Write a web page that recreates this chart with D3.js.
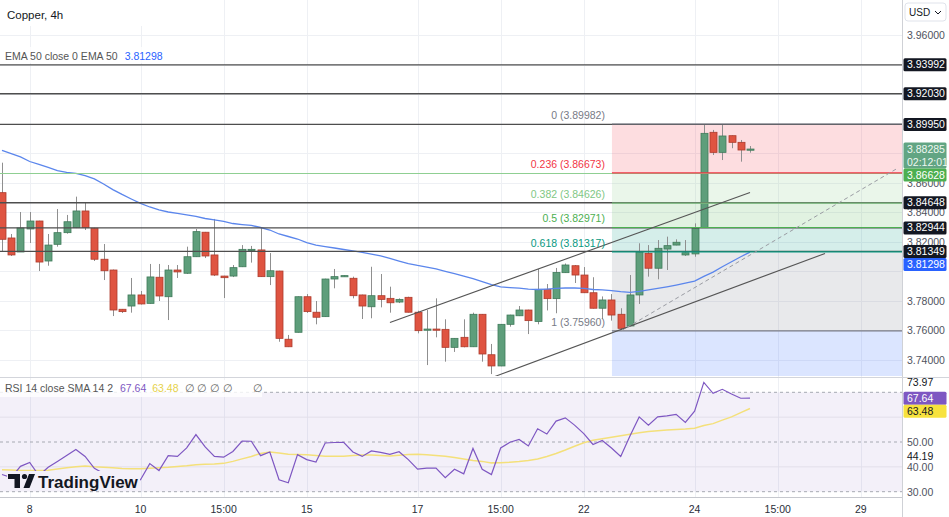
<!DOCTYPE html>
<html><head><meta charset="utf-8">
<script src="https://cdn.jsdelivr.net/npm/d3@7"></script>
<style>body{margin:0;background:#fff;}svg{display:block;font-family:"Liberation Sans",Arial,sans-serif;}</style>
</head><body><svg id="c" width="949" height="517"></svg>
<script>
// ---------- DATA ----------
const opens=[3.8533,3.8226,3.8131,3.8287,3.8341,3.8070,3.8183,3.8262,3.8296,3.8409,
3.8292,3.8082,3.8009,3.7743,3.7765,3.7840,3.7783,3.7960,3.7828,3.8009,
3.7987,3.8099,3.8265,3.8111,3.7968,3.7968,3.8031,3.8145,3.8145,3.7964,
3.8002,3.7540,3.7587,3.7828,3.7723,3.7693,3.7948,3.7964,3.7953,3.7840,
3.7760,3.7835,3.7817,3.7792,3.7824,3.7723,3.7605,3.7609,3.7607,3.7485,
3.7553,3.7489,3.7709,3.7435,3.7359,3.7641,3.7699,3.7738,3.7660,3.7878,
3.7815,3.7991,3.8038,3.7975,3.7855,3.7750,3.7806,3.7709,3.7630,3.7840,
3.8122,3.8021,3.8151,3.8178,3.8111,3.8118,3.8296,3.8942,3.8806,3.8919,
3.8874,3.8826];
const highs=[3.8736,3.8253,3.8402,3.8402,3.8343,3.8253,3.8422,3.8382,3.8506,3.8465,
3.8295,3.8185,3.8012,3.7745,3.7955,3.7867,3.8050,3.8050,3.8043,3.8043,
3.8167,3.8287,3.8267,3.8355,3.7970,3.8043,3.8178,3.8172,3.8296,3.8124,
3.8004,3.7569,3.7830,3.7846,3.7799,3.7950,3.8016,3.7973,3.7964,3.7842,
3.8031,3.7982,3.7896,3.7817,3.7828,3.7733,3.7738,3.7817,3.7675,3.7548,
3.7675,3.7720,3.7711,3.7508,3.7643,3.7706,3.7765,3.7740,3.8016,3.7914,
3.8023,3.8053,3.8043,3.8029,3.7960,3.7830,3.7846,3.7750,3.7975,3.8190,
3.8178,3.8212,3.8235,3.8217,3.8212,3.8325,3.8995,3.8958,3.8998,3.8921,
3.8890,3.8849];
const lows=[3.8133,3.8104,3.8131,3.8192,3.8002,3.8038,3.8167,3.8255,3.8293,3.8280,
3.8070,3.7941,3.7697,3.7718,3.7720,3.7775,3.7781,3.7799,3.7670,3.7955,
3.7982,3.8097,3.8090,3.7968,3.7819,3.7961,3.8029,3.8059,3.7962,3.7907,
3.7523,3.7487,3.7585,3.7718,3.7641,3.7691,3.7885,3.7962,3.7817,3.7677,
3.7682,3.7756,3.7720,3.7785,3.7721,3.7580,3.7365,3.7553,3.7388,3.7454,
3.7485,3.7487,3.7388,3.7304,3.7357,3.7625,3.7697,3.7575,3.7641,3.7735,
3.7716,3.7989,3.7921,3.7853,3.7748,3.7677,3.7666,3.7596,3.7628,3.7779,
3.7964,3.7946,3.8009,3.8176,3.8104,3.8099,3.8294,3.8788,3.8754,3.8834,
3.8743,3.8804];
const closes=[3.8217,3.8111,3.8294,3.8341,3.8063,3.8178,3.8262,3.8336,3.8409,3.8296,
3.8082,3.8004,3.7738,3.7727,3.7840,3.7779,3.7962,3.7833,3.8009,3.7996,
3.8099,3.8269,3.8104,3.7975,3.7957,3.8025,3.8149,3.8149,3.7964,3.8004,
3.7546,3.7489,3.7828,3.7727,3.7689,3.7948,3.7964,3.7971,3.7835,3.7765,
3.7835,3.7810,3.7787,3.7810,3.7723,3.7598,3.7609,3.7605,3.7485,3.7546,
3.7489,3.7709,3.7440,3.7359,3.7641,3.7704,3.7738,3.7666,3.7878,3.7815,
3.7992,3.8043,3.7975,3.7855,3.7750,3.7806,3.7704,3.7614,3.7840,3.8129,
3.8021,3.8156,3.8174,3.8197,3.8126,3.8292,3.8935,3.8806,3.8917,3.8874,
3.8822,3.88285];
const ema50=[3.8819,3.8798,3.8775,3.8744,3.8724,3.8704,3.8683,3.8670,3.8663,3.8649,
3.8626,3.8592,3.8554,3.8521,3.8490,3.8460,3.8436,3.8416,3.8402,3.8392,
3.8382,3.8372,3.8358,3.8348,3.8338,3.8324,3.8317,3.8311,3.8297,3.8280,
3.8253,3.8236,3.8219,3.8195,3.8178,3.8168,3.8158,3.8148,3.8138,3.8128,
3.8117,3.8104,3.8087,3.8070,3.8053,3.8040,3.8029,3.8016,3.8000,3.7984,
3.7968,3.7950,3.7931,3.7910,3.7895,3.7890,3.7886,3.7880,3.7877,3.7880,
3.7884,3.7887,3.7887,3.7884,3.7877,3.7874,3.7870,3.7863,3.7858,3.7864,
3.7874,3.7884,3.7895,3.7907,3.7920,3.7934,3.7966,3.7995,3.8031,3.8065,
3.8099,3.81298];
const rsi14=[36.9,35.7,40.2,41.8,36.5,39.8,42.2,44.6,47.0,44.2,
39.4,37.3,33.7,33.3,36.9,34.8,41.3,38.5,44.5,44.2,
47.6,53.0,48.0,44.2,43.9,46.2,50.4,50.3,44.5,46.0,
34.8,33.6,44.9,42.9,41.9,49.6,49.8,49.9,46.0,44.2,
46.4,45.8,45.0,46.1,42.9,39.1,39.5,39.5,35.6,39.0,
37.2,47.4,39.0,36.9,47.6,49.9,51.0,48.4,55.3,53.2,
58.4,59.7,56.8,53.4,49.0,50.6,47.6,44.2,52.4,60.1,
56.8,60.1,60.5,61.1,57.9,62.4,73.97,69.6,71.2,69.3,
67.6,67.64];
const rsiSma=[38.8,38.7,38.5,38.5,38.5,38.6,39.1,39.6,40.0,40.3,
40.0,39.8,39.6,39.3,39.2,39.2,39.4,39.6,39.8,40.1,
40.4,40.8,41.0,41.1,41.4,42.2,43.2,44.2,45.4,46.0,
45.6,45.1,45.0,44.9,44.6,44.3,44.3,44.3,44.6,44.8,
44.8,44.6,44.4,44.7,45.0,45.1,44.9,44.6,44.3,43.8,
43.2,42.6,42.2,41.6,41.7,41.9,42.2,42.6,43.2,44.2,
45.4,46.8,48.3,49.7,50.7,51.3,51.9,52.5,53.1,53.7,
54.2,54.5,54.8,55.0,55.2,55.5,56.6,57.4,58.8,60.1,
61.8,63.48];
// time axis ticks (candle index -> label)
const timeTickIdx=[3,15,24,33,45,54,63,75,84,93];
const timeTickLabels=["8","10","15:00","15","17","15:00","22","24","15:00","29"];
const priceTicks=[3.74,3.76,3.78,3.80,3.82,3.84,3.86,3.88,3.90,3.92,3.94,3.96];
const rsiTicks=[30,40,50,60,70];
// horizontal levels
const hLevels=[3.93992,3.92030,3.89950,3.84648,3.82944,3.81349];
const greenLevel=3.86628;
// fibonacci retracement
const fibStartIdx=66.05;
const fibRatios=["0","0.236","0.382","0.5","0.618","1","1.618"];
const fibPrices=[3.89982,3.86673,3.84626,3.82971,3.81317,3.75960,3.67294];
// trend lines [index, price]
const channelUpper=[[42.01,3.7653],[81.0,3.8534]];
const channelLower=[[53.38,3.7288],[89.12,3.8121]];
const fibTrend=[[67.03,3.7596],[97.02,3.8700]];
const lastPrice=3.88285, countdown="02:12:01", emaLast=3.81298;
const rsiLast=67.64, smaLast=63.48, rsiHigh=73.97, rsiMark=44.19;

// ---------- LAYOUT ----------
const W=949,H=517,PR=902,MB=376,RT=378,RB=497;
const svg=d3.select('#c');
const x=d3.scaleLinear().domain([-0.2166,97.46]).range([0,PR]);
const yP=d3.scaleLinear().domain([3.72909,3.98383]).range([MB,0]);
const yR=d3.scaleLinear().domain([30,70]).range([491.7,392.3]);
const defs=svg.append('defs');
defs.append('clipPath').attr('id','cm').append('rect').attr('x',0).attr('y',0).attr('width',PR).attr('height',MB);
defs.append('clipPath').attr('id','cr').append('rect').attr('x',0).attr('y',RT).attr('width',PR).attr('height',RB-RT);

const fibColors=["#787b86","#f23645","#81c784","#4caf50","#089981","#787b86","#2962ff"];

// grid
const grid=svg.append('g');
grid.selectAll('line.v').data(timeTickIdx).join('line')
 .attr('x1',d=>Math.round(x(d))+0.5).attr('x2',d=>Math.round(x(d))+0.5).attr('y1',0).attr('y2',RB)
 .attr('stroke','#eef0f4');
grid.selectAll('line.h').data(priceTicks).join('line')
 .attr('x1',0).attr('x2',PR).attr('y1',d=>Math.round(yP(d))+0.5).attr('y2',d=>Math.round(yP(d))+0.5)
 .attr('stroke','#eef0f4');

// RSI pane background
const gr=svg.append('g').attr('clip-path','url(#cr)');
gr.append('rect').attr('x',0).attr('width',PR).attr('y',yR(70)).attr('height',yR(30)-yR(70)).attr('fill','rgba(126,87,194,0.09)');
gr.selectAll('line.g').data([40,60]).join('line').attr('x1',0).attr('x2',PR)
 .attr('y1',d=>yR(d)).attr('y2',d=>yR(d)).attr('stroke','#e2dfea');
gr.selectAll('line.d').data([30,50,70]).join('line').attr('x1',0).attr('x2',PR)
 .attr('y1',d=>yR(d)).attr('y2',d=>yR(d)).attr('stroke','#a6a9b2').attr('stroke-dasharray','3,3');

// main pane
const gm=svg.append('g').attr('clip-path','url(#cm)');
const fx0=x(fibStartIdx);
for(let k=0;k<fibPrices.length-1;k++){
  gm.append('rect').attr('x',fx0).attr('width',PR-fx0)
   .attr('y',yP(fibPrices[k])).attr('height',yP(fibPrices[k+1])-yP(fibPrices[k]))
   .attr('fill',fibColors[k+1]).attr('fill-opacity',0.17);
}
// candles
const idx=d3.range(opens.length);
const up=i=>closes[i]>=opens[i];
gm.selectAll('line.w').data(idx).join('line')
 .attr('x1',i=>Math.round(x(i))+0.5).attr('x2',i=>Math.round(x(i))+0.5)
 .attr('y1',i=>yP(highs[i])).attr('y2',i=>yP(lows[i])).attr('stroke','#8f8f8f').attr('stroke-width',1);
gm.selectAll('rect.b').data(idx).join('rect')
 .attr('x',i=>Math.round(x(i))-3).attr('width',7)
 .attr('y',i=>yP(Math.max(opens[i],closes[i])))
 .attr('height',i=>Math.max(1.2,Math.abs(yP(opens[i])-yP(closes[i]))))
 .attr('fill',i=>up(i)?'#5e9e7b':'#df5441')
 .attr('stroke',i=>up(i)?'#3f7a5a':'#ad3b2c').attr('stroke-width',0.8);
// EMA
gm.append('path').datum(ema50).attr('fill','none').attr('stroke','#5b86ec').attr('stroke-width',1.3)
 .attr('d',d3.line().x((d,i)=>x(i)).y(d=>yP(d)));
// horizontal levels
gm.append('line').attr('x1',0).attr('x2',PR).attr('y1',yP(greenLevel)).attr('y2',yP(greenLevel))
 .attr('stroke','#8fcf92').attr('stroke-width',1.2);
gm.selectAll('line.hl').data(hLevels).join('line').attr('x1',0).attr('x2',PR)
 .attr('y1',d=>yP(d)).attr('y2',d=>yP(d)).attr('stroke','#4e4e4e').attr('stroke-width',1.3);
// fib lines
fibPrices.slice(0,6).forEach((p,k)=>{
  gm.append('line').attr('x1',fx0).attr('x2',PR).attr('y1',yP(p)).attr('y2',yP(p))
   .attr('stroke',fibColors[k]).attr('stroke-width',1.2);
});
// trend lines
const tl=d3.line().x(d=>x(d[0])).y(d=>yP(d[1]));
gm.append('path').datum(channelUpper).attr('d',tl).attr('stroke','#555').attr('stroke-width',1.1).attr('fill','none');
gm.append('path').datum(channelLower).attr('d',tl).attr('stroke','#555').attr('stroke-width',1.1).attr('fill','none');
gm.append('path').datum(fibTrend).attr('d',tl).attr('stroke','#9a9ca3').attr('stroke-width',1).attr('stroke-dasharray','4,3').attr('fill','none');
// fib labels
fibPrices.slice(0,6).forEach((p,k)=>{
  gm.append('text').attr('x',fx0-7).attr('y',yP(p)-5).attr('text-anchor','end')
   .attr('font-size',10.5).attr('fill',fibColors[k])
   .text(fibRatios[k]+" ("+p.toFixed(5)+")");
});

// RSI lines
gr.append('path').datum(rsiSma).attr('fill','none').attr('stroke','#f4e07a').attr('stroke-width',1.5)
 .attr('d',d3.line().x((d,i)=>x(i)).y(d=>yR(d)));
gr.append('path').datum(rsi14).attr('fill','none').attr('stroke','#7e57c2').attr('stroke-width',1.2)
 .attr('d',d3.line().x((d,i)=>x(i)).y(d=>yR(d)));

// title + legends
svg.append('rect').attr('x',0).attr('y',0).attr('width',150).attr('height',26).attr('fill','#fff');
svg.append('text').attr('x',7).attr('y',19).attr('font-size',11.5).attr('fill','#131722').text('Copper, 4h');
svg.append('rect').attr('x',0).attr('y',47).attr('width',160).attr('height',16).attr('fill','#fff').attr('fill-opacity',0.8);
const lg=svg.append('text').attr('x',5).attr('y',60).attr('font-size',10.5).attr('fill','#555');
lg.append('tspan').text('EMA 50 close 0 EMA 50');
lg.append('tspan').attr('dx',7).attr('fill','#2962ff').text(emaLast.toFixed(5));

svg.append('rect').attr('x',0).attr('y',380).attr('width',262).attr('height',17).attr('fill','#fff').attr('fill-opacity',0.8);
const rl=svg.append('text').attr('x',5).attr('y',392).attr('font-size',10.5).attr('fill','#555');
rl.append('tspan').text('RSI 14 close SMA 14 2');
rl.append('tspan').attr('dx',7).attr('fill','#7e57c2').text(rsiLast.toFixed(2));
rl.append('tspan').attr('dx',6).attr('fill','#e6d24a').text(smaLast.toFixed(2));
rl.append('tspan').attr('dx',6).attr('fill','#666').text('∅ ∅ ∅ ∅');
svg.append('text').attr('x',253).attr('y',392).attr('font-size',10.5).attr('fill','#666').text('∅');

// TradingView logo
svg.append('rect').attr('x',7).attr('y',471).attr('width',133).attr('height',20).attr('fill','#f3f0f9');
const logo=svg.append('g').attr('fill','#131722');
logo.append('path').attr('d','M8,474 H20 V488 H14.5 V479 H8 Z');
logo.append('circle').attr('cx',24.5).attr('cy',476.5).attr('r',2.6);
logo.append('path').attr('d','M29,474 H35 L29.5,488 H23.5 Z');
svg.append('text').attr('x',38).attr('y',488).attr('font-size',17).attr('font-weight',600)
 .attr('fill','#131722').text('TradingView');

// separators / axes lines
svg.append('line').attr('x1',0).attr('x2',W).attr('y1',377.5).attr('y2',377.5).attr('stroke','#d3d5db');
svg.append('line').attr('x1',0).attr('x2',PR).attr('y1',497.5).attr('y2',497.5).attr('stroke','#c6c8ce');
svg.append('rect').attr('x',PR+0.5).attr('y',0).attr('width',W-PR).attr('height',H).attr('fill','#fff');
svg.append('line').attr('x1',PR+0.5).attr('x2',PR+0.5).attr('y1',0).attr('y2',H).attr('stroke','#cfd1d6');
svg.append('line').attr('x1',PR).attr('x2',W).attr('y1',377.5).attr('y2',377.5).attr('stroke','#d3d5db');

const ax=svg.append('g').attr('font-size',10.5);
// tag layout with simple collision avoidance
function layoutTags(tags){
  tags.sort((a,b)=>a.y-b.y);
  let prevBottom=-1e9;
  tags.forEach(t=>{
    const h=t.sub?26:13;
    t.top=Math.max(t.y-6.5,prevBottom);
    t.bottom=t.top+h;
    prevBottom=t.bottom;
  });
  return tags;
}
const mainTags=hLevels.map(v=>({y:yP(v),text:v.toFixed(5),bg:'#131722',fg:'#fff'}));
mainTags.push({y:yP(lastPrice),text:lastPrice.toFixed(5),sub:countdown,bg:'#62a583',fg:'#eef7f1'});
mainTags.push({y:yP(greenLevel),text:greenLevel.toFixed(5),bg:'#4caf50',fg:'#fff'});
mainTags.push({y:yP(emaLast),text:emaLast.toFixed(5),bg:'#2962ff',fg:'#fff'});
layoutTags(mainTags);
const rsiTags=layoutTags([
 {y:yR(rsiHigh),text:rsiHigh.toFixed(2),bg:null,fg:'#131722'},
 {y:yR(rsiLast),text:rsiLast.toFixed(2),bg:'#7e57c2',fg:'#fff'},
 {y:yR(smaLast),text:smaLast.toFixed(2),bg:'#f7e23e',fg:'#131722'},
 {y:yR(rsiMark),text:rsiMark.toFixed(2),bg:null,fg:'#131722'}
]);
const covered=(yy,tags)=>tags.some(t=>yy>=t.top-3&&yy<=t.bottom+1);

// axis labels (hidden where a tag sits on them)
ax.selectAll('text.p').data(priceTicks.filter(d=>!covered(yP(d),mainTags))).join('text')
 .attr('x',907).attr('y',d=>yP(d)+3.8).attr('fill','#50535e').text(d=>d.toFixed(5));
ax.selectAll('text.r').data(rsiTicks.filter(d=>!covered(yR(d),rsiTags))).join('text')
 .attr('x',907).attr('y',d=>yR(d)+3.8).attr('fill','#50535e').text(d=>d.toFixed(2));

function drawTags(tags){
  tags.forEach(t=>{
    const h=t.bottom-t.top;
    if(t.bg) ax.append('rect').attr('x',PR+1.5).attr('y',t.top).attr('width',43).attr('height',h).attr('rx',1.5).attr('fill',t.bg);
    ax.append('text').attr('x',907).attr('y',t.top+10).attr('fill',t.fg).text(t.text);
    if(t.sub) ax.append('text').attr('x',907).attr('y',t.top+23).attr('fill',t.fg).text(t.sub);
  });
}
drawTags(mainTags);
drawTags(rsiTags);

// USD selector
svg.append('rect').attr('x',905).attr('y',3).attr('width',41).attr('height',18).attr('rx',3)
 .attr('fill','#fff').attr('stroke','#e0e3eb');
svg.append('text').attr('x',909).attr('y',16).attr('font-size',10).attr('fill','#131722').text('USD');
svg.append('path').attr('d','M935,11 l3,3 l3,-3').attr('fill','none').attr('stroke','#131722').attr('stroke-width',1);

// time axis
svg.append('g').selectAll('text').data(timeTickIdx).join('text')
 .attr('x',d=>x(d)).attr('y',513).attr('text-anchor','middle').attr('font-size',10.5)
 .attr('fill','#2a2e39').text((d,i)=>timeTickLabels[i]);
</script></body></html>
